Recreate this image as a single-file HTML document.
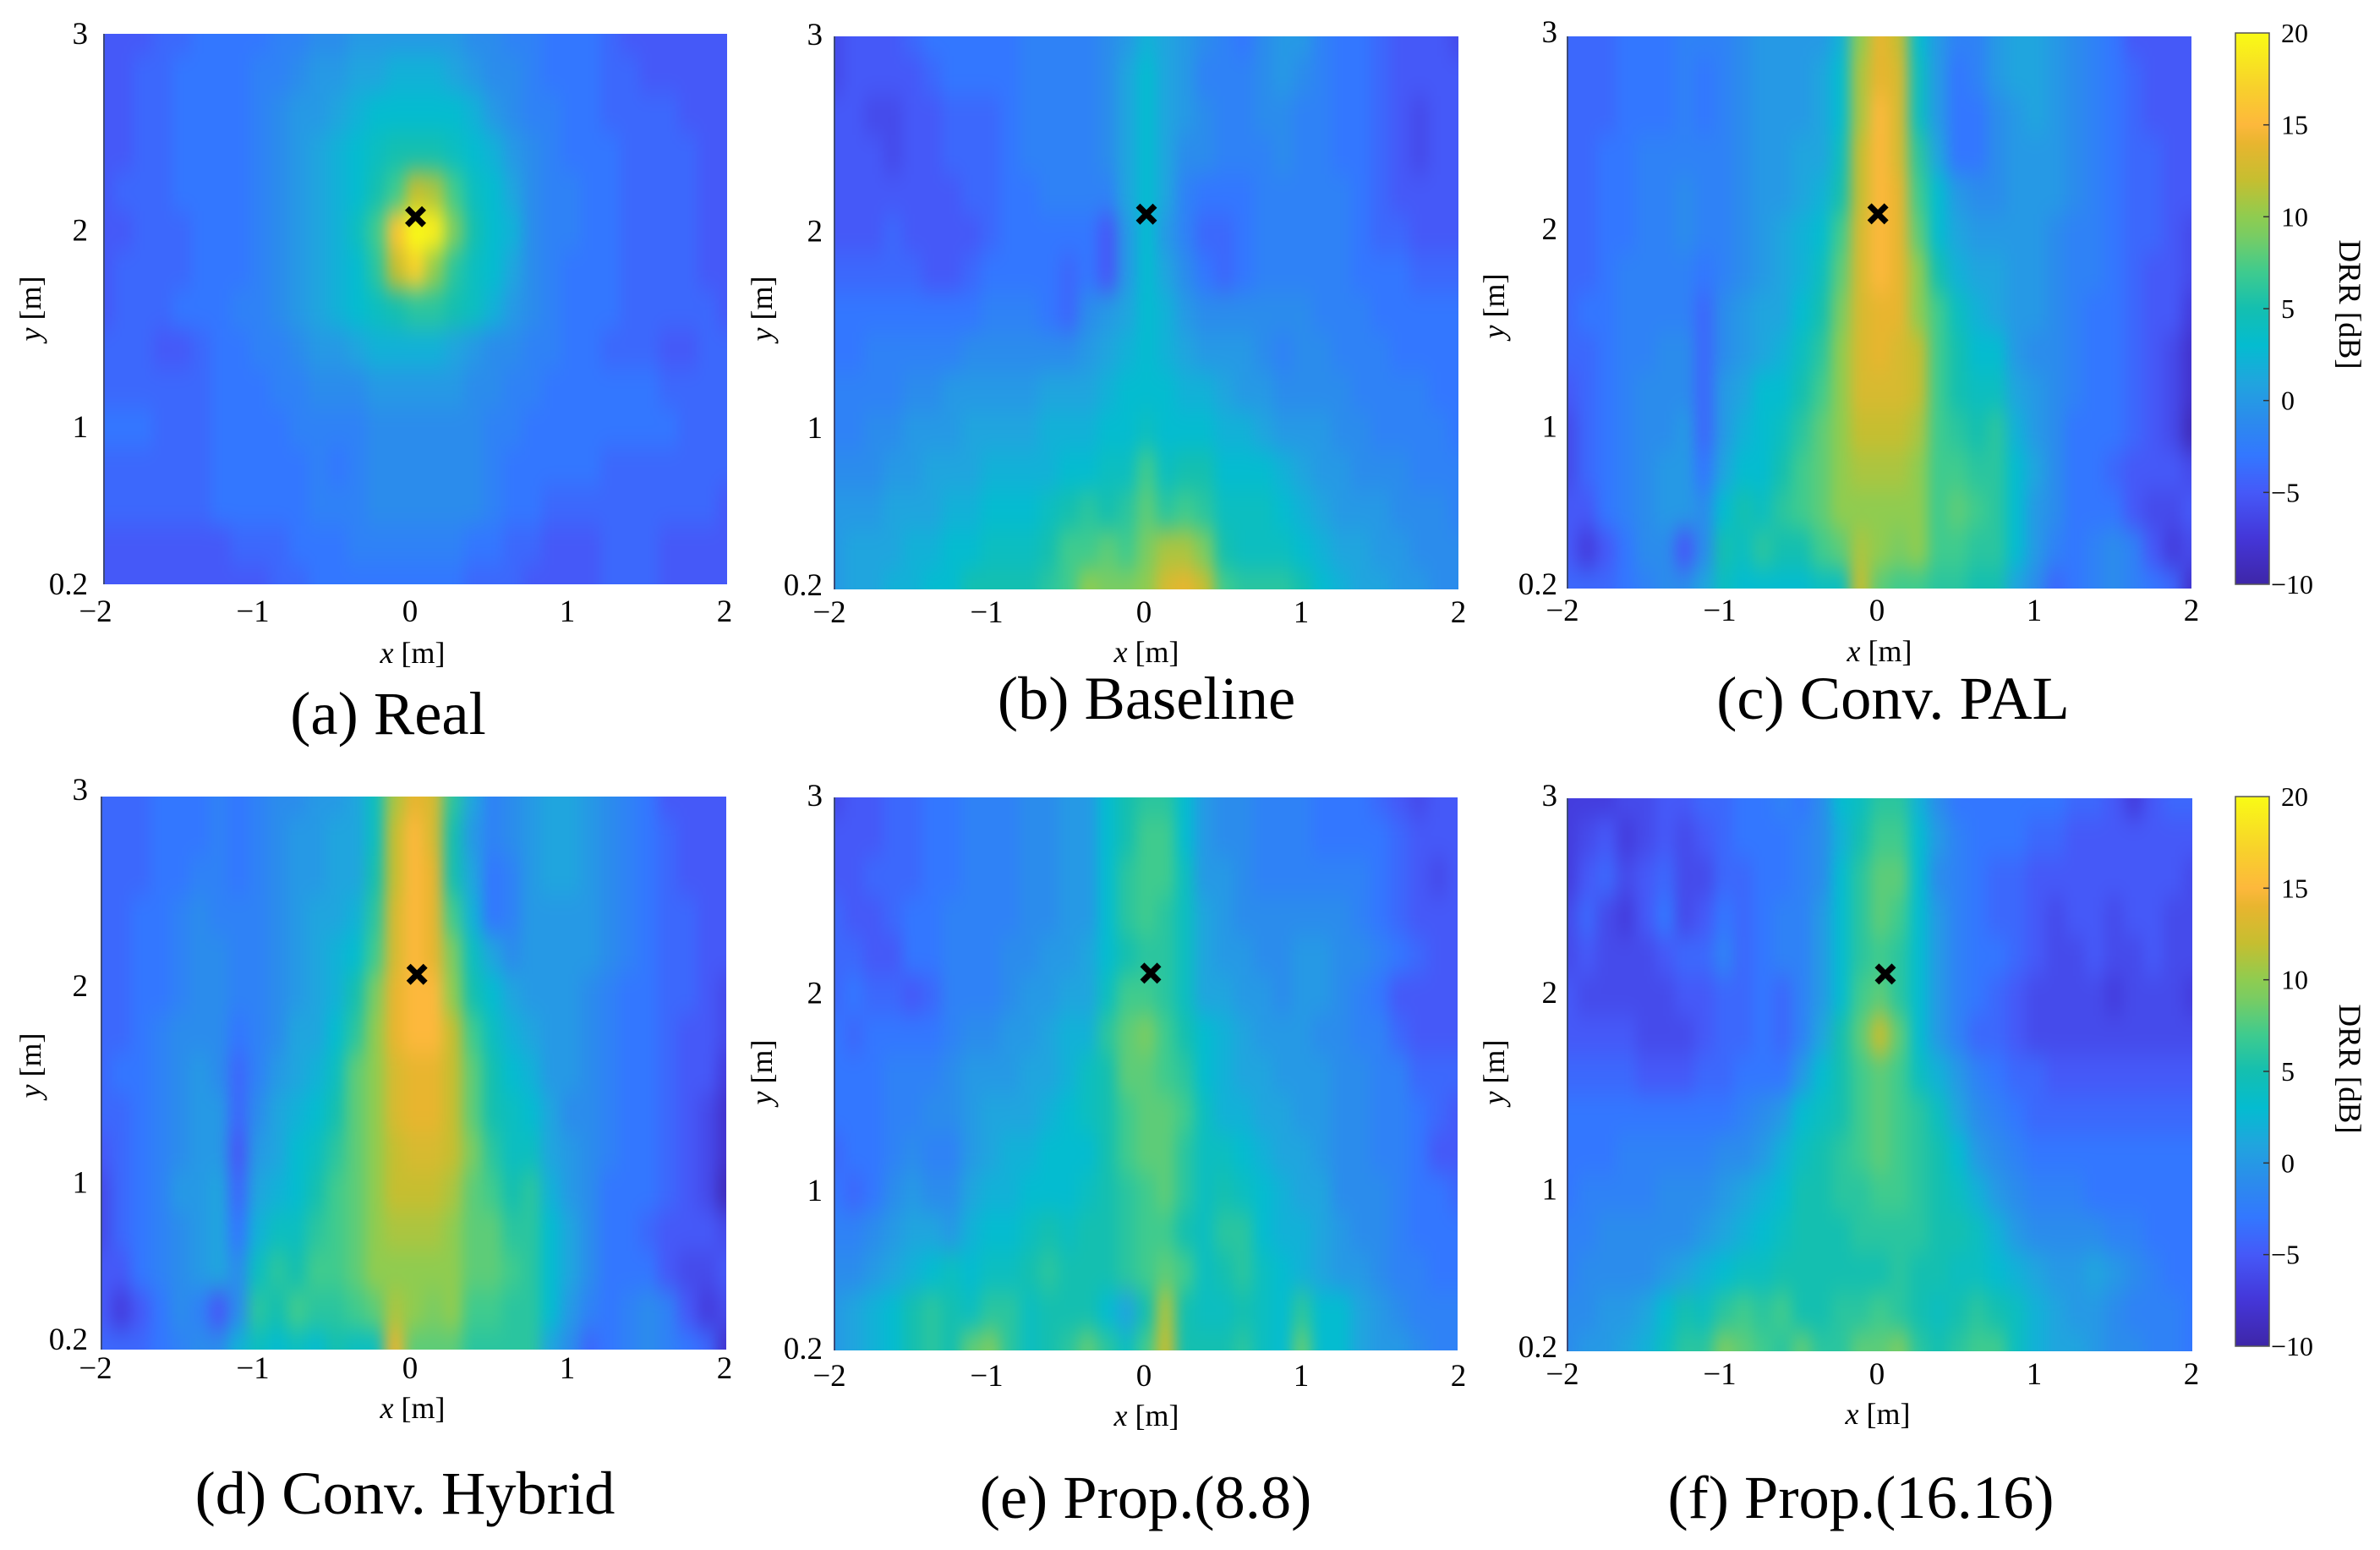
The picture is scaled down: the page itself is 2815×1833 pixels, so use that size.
<!DOCTYPE html>
<html lang="en">
<head>
<meta charset="utf-8">
<title>DRR maps</title>
<style>
html,body{margin:0;padding:0;background:#fff}
svg{display:block}
text{font-family:"Liberation Serif","Times New Roman",serif;fill:#000}
</style>
</head>
<body>
<svg id="figure" xmlns="http://www.w3.org/2000/svg" width="2815" height="1833" viewBox="0 0 2815 1833"></svg>
<script>
// Axis data
const gridX = [-2,-1.875,-1.75,-1.625,-1.5,-1.375,-1.25,-1.125,-1,-0.875,-0.75,-0.625,-0.5,-0.375,-0.25,-0.125,0,0.125,0.25,0.375,0.5,0.625,0.75,0.875,1,1.125,1.25,1.375,1.5,1.625,1.75,1.875,2];
const gridY = [3,2.8,2.6,2.4,2.2,2,1.8,1.6,1.4,1.2,1,0.8,0.6,0.4,0.2];
const xTickLabels = [-2,-1,0,1,2];
const yTickLabels = [3,2,1,0.2];
const colorTickLabels = [20,15,10,5,0,-5,-10];
const colorDomain = [-10,20];
const colormapValues = [-10,-7.5,-5,-3,-1,1,3,5,7,9,10,12,14,15,17,20];
const colormapColors = ["#3e26a8","#4436d8","#4559f8","#3377ff","#2b8cec","#20a5de","#04bcd0","#14bfb0","#3fcb8e","#7acc62","#8fcc50","#c6be30","#e8b52f","#fdb83c","#f8d02c","#f9fb15"];

// Source positions [x, y] in metres
const realSource = [0.0,2.07];
const baselineSource = [0.0,2.1];
const convPalSource = [-0.01,2.1];
const convHybridSource = [0.02,2.1];
const prop88Source = [0.03,2.11];
const prop1616Source = [0.035,2.11];

// DRR values in dB: one row per gridY, one column per gridX
const realValues = [
[-5,-5,-5,-4,-4,-3,-3,-3,-3,-2,-2,-1,-1,0,0,0,0,0,0,-1,-1,-2,-2,-3,-3,-3,-4,-5,-5,-5,-5,-5,-5],
[-5,-5,-4,-4,-3,-3,-3,-3,-2,-2,-1,0,0,1,1,2,2,2,1,0,-1,-1,-2,-3,-3,-3,-4,-4,-5,-5,-5,-5,-5],
[-5,-5,-4,-4,-3,-3,-3,-3,-2,-1,0,0,1,2,3,3,3,3,3,2,0,-1,-2,-2,-3,-3,-4,-4,-4,-4,-5,-5,-5],
[-5,-5,-4,-4,-3,-3,-3,-3,-2,-1,0,1,2,3,4,5,5,5,4,3,2,0,-1,-2,-3,-3,-3,-4,-4,-4,-4,-5,-5],
[-5,-4,-4,-4,-3,-3,-3,-3,-2,-1,0,1,2,3,5,7,12,11,7,4,3,1,-1,-2,-2,-3,-3,-4,-4,-4,-4,-5,-5],
[-5,-5,-4,-4,-4,-3,-3,-3,-2,-1,0,1,2,4,7,16,23,19,9,5,3,2,-1,-2,-2,-3,-3,-4,-4,-4,-4,-5,-5],
[-5,-4,-4,-4,-4,-3,-3,-3,-2,-1,0,1,2,3,6,12,17,10,6,4,3,1,-1,-2,-3,-3,-3,-4,-4,-4,-4,-5,-5],
[-5,-4,-4,-4,-3,-3,-3,-2,-2,-1,0,1,2,3,4,5,6,6,5,4,2,0,-1,-2,-3,-3,-3,-4,-4,-4,-4,-4,-5],
[-4,-4,-4,-5,-5,-4,-3,-3,-2,-2,-1,0,0,1,2,2,2,2,1,0,-1,-1,-2,-2,-3,-3,-4,-4,-4,-5,-5,-4,-4],
[-4,-4,-4,-4,-4,-4,-3,-3,-3,-2,-2,-1,-1,-1,0,0,0,0,0,-1,-1,-2,-2,-3,-3,-3,-3,-3,-3,-4,-4,-4,-4],
[-3,-3,-3,-4,-4,-4,-3,-3,-3,-3,-2,-2,-2,-2,-1,-1,-1,-1,-1,-1,-2,-2,-3,-3,-3,-3,-3,-3,-3,-3,-4,-4,-4],
[-4,-4,-4,-4,-4,-4,-3,-3,-3,-3,-3,-2,-3,-2,-1,-1,-1,-1,-1,-1,-2,-3,-3,-3,-3,-3,-4,-4,-4,-4,-4,-4,-4],
[-4,-4,-4,-4,-4,-4,-3,-3,-3,-3,-3,-2,-2,-2,-1,-1,-1,-1,-1,-1,-2,-3,-3,-4,-4,-4,-4,-4,-4,-4,-4,-4,-5],
[-5,-5,-5,-5,-5,-5,-5,-4,-4,-4,-3,-3,-3,-2,-2,-2,-2,-2,-2,-3,-3,-4,-4,-5,-5,-5,-4,-4,-4,-5,-5,-5,-5],
[-5,-5,-5,-5,-5,-5,-5,-5,-5,-4,-4,-3,-3,-3,-3,-3,-3,-3,-3,-4,-4,-4,-5,-5,-5,-5,-4,-4,-4,-5,-5,-5,-5]
];
const baselineValues = [
[-6,-5,-5,-5,-4,-3,-3,-3,-3,-3,-2,-2,-2,-2,-1,0,2,1,0,-1,-2,-3,-1,0,0,-2,-3,-3,-4,-5,-5,-5,-6],
[-6,-5,-5,-5,-5,-4,-3,-3,-3,-3,-2,-2,-2,-2,-1,1,3,1,0,-2,-2,-2,-1,0,-1,-2,-3,-3,-4,-5,-5,-5,-5],
[-5,-5,-6,-6,-5,-5,-4,-4,-4,-3,-2,-2,-2,-2,-1,1,3,1,0,-1,-2,-2,-1,-1,-2,-2,-3,-3,-4,-5,-6,-5,-5],
[-5,-5,-5,-6,-5,-5,-4,-4,-4,-3,-2,-2,-2,-2,-1,1,3,1,-1,-1,-2,-2,-2,-1,-2,-2,-3,-3,-4,-5,-6,-5,-5],
[-5,-5,-5,-5,-5,-5,-5,-4,-4,-3,-3,-2,-2,-2,-2,1,3,1,-2,-3,-3,-3,-2,-2,-2,-2,-2,-3,-4,-5,-5,-5,-5],
[-5,-5,-5,-4,-5,-5,-5,-5,-4,-3,-3,-3,-3,-3,-5,0,3,0,-2,-4,-4,-3,-2,-2,-2,-2,-2,-3,-4,-4,-5,-5,-5],
[-4,-4,-4,-4,-4,-5,-5,-4,-3,-3,-3,-3,-4,-3,-5,0,3,1,-1,-3,-4,-3,-2,-2,-2,-2,-2,-3,-3,-3,-4,-4,-4],
[-3,-3,-3,-3,-3,-3,-3,-3,-2,-2,-2,-3,-4,-1,0,1,3,2,0,-1,-1,-1,-1,-1,-1,-2,-2,-2,-3,-3,-3,-3,-3],
[-3,-3,-2,-2,-2,-2,-2,-1,-1,-1,-1,-1,-1,0,1,2,3,2,1,0,0,0,-1,-2,-1,-1,-2,-2,-2,-3,-3,-3,-3],
[-2,-2,-2,-2,-1,-1,0,0,0,0,0,1,1,1,2,3,3,3,2,2,1,0,0,-1,-1,-1,-1,-2,-2,-2,-2,-3,-3],
[-2,-2,-1,-1,0,0,0,1,1,1,1,2,2,2,3,3,4,3,3,3,2,2,1,0,0,0,-1,-1,-2,-2,-2,-2,-3],
[-1,-1,-1,0,0,1,1,1,2,2,2,2,3,3,4,4,7,4,5,5,3,3,3,2,1,0,0,-1,-1,-1,-2,-2,-2],
[0,0,0,1,1,1,2,2,3,3,3,4,5,6,5,6,8,6,7,6,4,4,4,3,2,1,0,0,0,-1,-1,-1,-2],
[0,1,1,1,2,2,3,3,4,4,4,5,7,7,8,7,9,11,11,9,5,4,4,4,3,2,1,1,0,0,-1,-1,-1],
[0,1,1,2,2,3,3,5,5,5,5,6,7,10,9,9,10,13,14,12,7,6,6,6,5,3,2,1,1,0,0,-1,-1]
];
const convPalValues = [
[-4,-4,-4,-3,-3,-3,-2,-2,-2,-1,0,0,0,0,2,10,14,12,3,0,-2,-2,0,1,1,0,-1,-2,-3,-5,-5,-5,-5],
[-4,-4,-4,-3,-3,-3,-2,-3,-2,-1,0,0,0,1,3,11,14,13,4,0,-3,-2,0,1,1,0,-1,-2,-3,-4,-5,-5,-5],
[-4,-4,-4,-3,-3,-3,-2,-3,-2,-1,0,0,0,1,3,11,15,13,4,0,-3,-3,-1,0,1,0,-1,-2,-3,-4,-5,-5,-5],
[-4,-4,-3,-3,-2,-2,-2,-2,-2,-1,0,0,1,1,4,12,15,13,6,1,-3,-3,-1,0,0,0,-1,-2,-3,-4,-4,-5,-5],
[-4,-4,-3,-3,-2,-2,-1,-2,-2,-1,0,0,1,2,5,12,15,14,7,3,0,-1,-1,0,0,0,-1,-2,-3,-4,-4,-5,-5],
[-4,-4,-3,-3,-2,-2,-1,-2,-2,-1,0,1,2,3,7,13,15,14,8,3,1,0,0,0,0,-1,-2,-2,-3,-4,-4,-5,-6],
[-4,-4,-3,-2,-2,-2,-2,-3,-2,-1,0,1,2,4,8,13,15,14,10,5,2,1,1,0,0,-1,-2,-2,-3,-4,-5,-5,-6],
[-4,-3,-3,-2,-2,-2,-2,-4,-1,0,1,1,3,5,9,13,14,14,10,7,4,2,1,0,0,-1,-2,-3,-3,-4,-5,-5,-7],
[-4,-4,-3,-2,-2,-1,-1,-4,-1,0,1,2,4,6,10,13,14,13,12,7,5,3,3,0,-1,-1,-2,-3,-3,-4,-5,-6,-8],
[-5,-4,-3,-2,-1,-1,-1,-4,0,1,3,3,5,7,10,13,13,13,12,7,5,4,4,1,0,-1,-2,-3,-3,-4,-5,-6,-8],
[-6,-4,-3,-2,-1,-1,0,-4,0,2,3,4,6,8,10,12,12,12,11,7,6,5,6,2,0,-1,-3,-3,-3,-4,-5,-6,-9],
[-6,-4,-3,-2,-1,0,0,-3,1,3,3,5,7,8,10,11,11,11,10,7,7,6,6,3,1,-1,-3,-3,-4,-5,-5,-5,-6],
[-5,-5,-3,-2,-1,0,0,-1,3,5,4,6,7,8,10,10,10,10,10,7,8,7,6,3,0,-1,-3,-3,-3,-5,-6,-6,-5],
[-5,-7,-5,-3,-1,-1,-5,-1,5,4,6,5,5,7,8,11,10,9,10,7,7,6,6,3,0,-2,-3,-2,-1,-2,-5,-7,-6],
[-4,-4,-4,-3,-2,-1,-1,1,4,3,3,3,3,4,4,12,8,7,7,6,6,5,5,1,-1,-4,-3,-2,-1,-2,-3,-4,-8]
];
const convHybridValues = [
[-4,-4,-4,-3,-3,-3,-2,-3,-2,-1,-1,0,0,1,4,11,14,13,6,1,-2,-1,0,1,1,0,-1,-2,-3,-5,-5,-5,-5],
[-4,-4,-4,-3,-3,-3,-2,-3,-2,-1,0,0,1,1,4,12,15,13,5,0,-2,-1,0,1,1,0,-1,-2,-3,-4,-5,-5,-5],
[-4,-4,-4,-3,-3,-2,-2,-3,-2,-1,0,0,1,1,5,12,15,14,5,1,-3,-2,0,1,1,0,-1,-2,-3,-4,-5,-5,-5],
[-4,-4,-3,-3,-2,-1,-2,-2,-2,-1,0,1,1,2,6,13,15,14,7,2,-3,-2,0,0,0,0,-1,-2,-3,-4,-4,-5,-5],
[-4,-4,-3,-3,-2,-1,-1,-2,-2,-1,0,1,2,3,7,13,15,14,9,4,1,-1,0,0,0,0,-1,-2,-3,-4,-4,-5,-5],
[-4,-4,-3,-3,-2,-1,-1,-2,-2,-1,0,1,2,5,9,14,15,15,10,5,3,1,0,0,0,-1,-2,-3,-3,-4,-4,-5,-6],
[-4,-4,-3,-2,-1,-1,-1,-3,-2,-1,1,1,3,6,10,14,15,15,12,7,4,2,1,0,0,-1,-2,-3,-3,-4,-5,-5,-6],
[-4,-3,-3,-2,-1,0,-1,-4,-2,0,1,2,4,8,10,13,14,14,12,8,5,3,2,0,0,-1,-2,-3,-3,-4,-5,-5,-7],
[-4,-4,-3,-2,-1,0,0,-4,-1,1,2,3,5,8,10,13,14,14,12,8,5,4,3,1,-1,-1,-2,-3,-3,-4,-5,-6,-8],
[-5,-4,-3,-2,-1,0,0,-5,0,1,3,4,6,8,10,12,13,13,12,9,6,4,4,1,0,-1,-2,-3,-3,-4,-5,-6,-8],
[-6,-4,-3,-2,0,0,1,-4,1,2,3,5,7,8,10,12,12,12,11,8,7,5,6,2,0,-1,-3,-3,-3,-4,-5,-6,-9],
[-6,-4,-3,-2,-1,0,1,-3,2,4,4,6,7,8,10,11,11,11,10,8,8,6,6,3,1,-1,-3,-3,-4,-5,-5,-5,-6],
[-5,-5,-3,-2,-1,0,1,-1,4,6,5,7,7,8,10,10,10,10,10,8,8,7,6,3,1,-1,-3,-3,-3,-5,-6,-6,-5],
[-5,-7,-5,-3,-1,-2,-5,-1,6,5,7,6,6,7,8,11,10,9,10,7,7,6,6,3,0,-2,-3,-2,-1,-2,-5,-7,-6],
[-4,-4,-4,-3,-2,-1,-1,2,4,3,4,3,5,4,4,14,8,8,8,6,6,6,6,1,-1,-4,-3,-2,-1,-2,-3,-4,-8]
];
const prop88Values = [
[-6,-5,-5,-4,-4,-3,-3,-2,-2,-2,-1,-1,0,0,3,5,6,6,3,0,-1,-1,-2,-2,-2,-3,-3,-3,-4,-5,-6,-5,-5],
[-5,-5,-5,-4,-4,-3,-3,-2,-2,-2,-1,-1,0,0,3,5,7,7,3,0,-1,-1,-2,-2,-2,-3,-3,-3,-3,-4,-5,-5,-5],
[-5,-5,-4,-4,-4,-3,-3,-2,-2,-2,-1,-1,0,0,3,6,7,7,4,0,0,-1,-2,-2,-2,-2,-2,-2,-3,-4,-5,-6,-5],
[-4,-5,-5,-4,-3,-3,-2,-2,-2,-2,-1,-1,0,0,3,6,7,6,4,1,0,-1,-1,-1,-1,-1,-1,-2,-3,-4,-5,-5,-5],
[-4,-4,-5,-5,-3,-3,-2,-2,-2,-1,-1,0,0,1,3,5,6,6,4,1,0,0,-1,-1,0,0,-1,-1,-2,-3,-4,-5,-5],
[-4,-3,-4,-4,-5,-4,-2,-2,-2,-1,0,0,1,1,4,7,7,6,4,1,1,0,0,-1,0,0,-1,-2,-3,-5,-5,-5,-5],
[-3,-4,-3,-3,-3,-3,-2,-1,-1,0,0,1,2,2,6,8,9,7,5,3,2,1,0,0,0,-1,-1,-2,-2,-4,-5,-5,-5],
[-3,-3,-3,-2,-2,-2,-1,0,0,0,1,1,2,4,5,8,8,7,6,3,2,1,1,0,0,0,-1,-1,-2,-2,-4,-4,-4],
[-3,-3,-3,-2,-2,-1,-1,0,1,1,1,2,3,4,5,7,8,8,7,4,2,2,1,1,0,0,-1,-1,-2,-2,-3,-4,-5],
[-4,-3,-3,-2,-1,-2,-2,0,1,2,2,3,3,3,5,7,8,8,6,4,4,3,2,1,1,0,-1,-1,-2,-2,-3,-5,-5],
[-3,-4,-3,-1,0,-1,-1,1,2,2,3,3,3,4,5,6,7,8,6,4,5,4,3,2,1,1,-1,-1,-1,-2,-3,-3,-4],
[-2,-2,-1,0,1,1,0,2,3,3,4,5,4,5,5,6,7,7,5,4,6,6,3,2,2,1,0,-1,-1,-2,-3,-3,-3],
[-1,-1,0,1,2,3,4,3,4,4,5,6,5,5,5,6,7,8,7,4,5,6,4,3,2,1,0,0,-1,-2,-2,-3,-3],
[0,1,2,3,5,6,5,4,6,6,4,5,5,5,3,1,5,11,5,4,4,5,4,3,6,3,3,1,0,-1,-2,-2,-2],
[0,1,2,3,5,6,5,8,9,6,4,5,6,8,6,4,7,12,5,5,5,6,4,3,8,3,3,1,0,0,-1,-2,-2]
];
const prop1616Values = [
[-7,-7,-7,-6,-6,-5,-5,-4,-4,-3,-3,-2,-3,-1,3,4,6,6,2,-1,-3,-3,-3,-3,-3,-3,-4,-4,-5,-7,-5,-4,-4],
[-7,-6,-5,-7,-6,-5,-6,-5,-4,-3,-3,-3,-2,-1,2,5,7,7,3,0,-2,-3,-3,-3,-4,-4,-5,-5,-5,-5,-5,-5,-5],
[-7,-5,-4,-6,-5,-4,-6,-6,-4,-4,-3,-3,-2,-1,3,6,8,8,3,-1,-2,-3,-4,-4,-5,-5,-5,-5,-5,-5,-5,-5,-6],
[-6,-4,-6,-7,-5,-3,-6,-5,-3,-4,-3,-2,-2,0,3,6,8,7,3,0,-2,-3,-4,-4,-5,-6,-5,-5,-6,-5,-5,-6,-6],
[-6,-5,-6,-6,-6,-5,-4,-4,-2,-4,-3,-2,-2,0,3,6,7,6,3,0,-2,-3,-3,-4,-5,-6,-6,-5,-6,-6,-5,-6,-6],
[-5,-6,-6,-6,-6,-6,-5,-5,-4,-4,-3,-4,-2,0,3,7,8,6,3,0,-2,-3,-4,-5,-6,-6,-6,-6,-7,-6,-6,-6,-7],
[-5,-5,-5,-5,-6,-6,-6,-5,-4,-4,-3,-4,-2,1,5,8,12,8,3,0,-2,-4,-4,-5,-6,-6,-6,-6,-6,-6,-6,-6,-6],
[-4,-4,-4,-4,-5,-5,-5,-4,-4,-3,-3,-3,0,3,5,7,8,7,4,2,0,-2,-3,-4,-4,-5,-5,-5,-5,-5,-5,-5,-5],
[-3,-3,-3,-3,-3,-3,-3,-3,-3,-2,-1,0,3,4,5,7,8,7,6,4,1,-1,-2,-3,-4,-4,-4,-4,-4,-4,-4,-4,-4],
[-3,-3,-3,-2,-2,-2,-2,-2,-1,-1,0,2,4,5,6,7,8,7,6,5,3,0,-1,-2,-3,-3,-3,-3,-3,-3,-3,-3,-3],
[-3,-2,-2,-2,-2,-1,-1,-1,0,1,2,3,5,5,6,6,7,7,6,5,4,2,0,-1,-2,-2,-2,-3,-3,-3,-3,-3,-3],
[-2,-2,-1,-1,-1,-1,-1,0,1,2,3,4,5,5,5,6,6,6,6,5,5,4,2,0,-1,-1,-1,-1,-2,-2,-3,-3,-3],
[-2,-1,-1,-1,-1,0,1,2,3,4,4,5,5,5,5,5,5,6,5,5,4,4,3,2,1,0,0,1,0,-1,-2,-3,-3],
[-1,-1,0,0,1,3,5,4,6,7,6,7,5,5,6,6,7,6,5,4,5,6,5,4,2,1,0,0,-1,-2,-2,-2,-3],
[-1,0,0,1,2,4,6,6,9,8,7,6,8,6,6,8,8,9,6,5,6,7,7,4,2,1,1,0,-1,-1,-2,-2,-3]
];

const SVG_NS = "http://www.w3.org/2000/svg";
const svg = document.getElementById("figure");

function make(tag, attrs, parent) {
  const el = document.createElementNS(SVG_NS, tag);
  for (const k in attrs) el.setAttribute(k, attrs[k]);
  parent.appendChild(el);
  return el;
}
function hexToRgb(h) {
  return [parseInt(h.slice(1,3),16), parseInt(h.slice(3,5),16), parseInt(h.slice(5,7),16)];
}
function colorFor(v) {
  const vals = colormapValues;
  if (v <= vals[0]) return colormapColors[0];
  if (v >= vals[vals.length-1]) return colormapColors[vals.length-1];
  for (let i = 1; i < vals.length; i++) {
    if (v <= vals[i]) {
      const t = (v - vals[i-1]) / (vals[i] - vals[i-1]);
      const a = hexToRgb(colormapColors[i-1]);
      const b = hexToRgb(colormapColors[i]);
      return "rgb(" + [0,1,2].map(function(c){ return Math.round(a[c] + (b[c]-a[c])*t); }).join(",") + ")";
    }
  }
}
function labelText(v) {
  return v < 0 ? "\u2212" + Math.abs(v) : String(v);
}

const defs = make("defs", {}, svg);
const blur = make("filter", {id:"smooth", filterUnits:"userSpaceOnUse", x:0, y:0, width:2815, height:1833, "color-interpolation-filters":"sRGB"}, defs);
make("feGaussianBlur", {stdDeviation:"8 14"}, blur);

function drawPanel(p) {
  const group = make("g", {}, svg);
  
  

  const xScale = function(v){ return p.left + (v - gridX[0]) / (gridX[gridX.length-1] - gridX[0]) * (p.right - p.left); };
  const yScale = function(v){ return p.top + (gridY[0] - v) / (gridY[0] - gridY[gridY.length-1]) * (p.bottom - p.top); };
  const yLabelScale = function(v){ return p.yLabelTop + (gridY[0] - v) / (gridY[0] - gridY[gridY.length-1]) * (p.yLabelBottom - p.yLabelTop); };

  const clip = make("clipPath", {id:"clip-" + p.name}, defs);
  make("rect", {x:p.left, y:p.top, width:p.right-p.left, height:p.bottom-p.top}, clip);

  const clipGroup = make("g", {"clip-path":"url(#clip-" + p.name + ")"}, group);
  
  
  const cells = make("g", {filter:"url(#smooth)", "shape-rendering":"crispEdges"}, clipGroup);
  
  

  const dx = gridX[1] - gridX[0];
  const dy = gridY[0] - gridY[1];
  p.values.forEach(function(row, r){
    row.forEach(function(v, c){
      let x0 = xScale(gridX[c] - dx/2);
      let x1 = xScale(gridX[c] + dx/2);
      let y0 = yScale(gridY[r] + dy/2);
      let y1 = yScale(gridY[r] - dy/2);
      if (c === 0) x0 -= 60;
      if (c === row.length-1) x1 += 60;
      if (r === 0) y0 -= 80;
      if (r === p.values.length-1) y1 += 80;
      const cell = make("rect", {x:x0, y:y0, width:x1-x0+0.6, height:y1-y0+0.6, fill:colorFor(v)}, cells);
      
      
    });
  });

  const edge = make("line", {x1:p.left, x2:p.left, y1:p.top, y2:p.bottom, stroke:"#3d4a78", "stroke-width":2}, group);
  
  

  xTickLabels.forEach(function(v){
    const t = make("text", {x:p.xLabelCenter + v*p.xLabelStep, y:p.xLabelY, "font-size":37, "text-anchor":"middle"}, group);
    t.textContent = labelText(v);
    
    
  });
  yTickLabels.forEach(function(v){
    const t = make("text", {x:p.yLabelRight, y:yLabelScale(v) + 12, "font-size":37, "text-anchor":"end"}, group);
    t.textContent = labelText(v);
    
    
  });

  const xTitle = make("text", {x:p.xTitle[0], y:p.xTitle[1], "font-size":36, "text-anchor":"middle"}, group);
  
  
  const xi = make("tspan", {"font-style":"italic"}, xTitle);
  xi.textContent = "x";
  const xr = make("tspan", {}, xTitle);
  xr.textContent = " [m]";

  const yTitle = make("text", {transform:"translate(" + p.yTitle[0] + "," + p.yTitle[1] + ") rotate(-90)", "font-size":36, "text-anchor":"middle"}, group);
  
  
  const yi = make("tspan", {"font-style":"italic"}, yTitle);
  yi.textContent = "y";
  const yr = make("tspan", {}, yTitle);
  yr.textContent = " [m]";

  const caption = make("text", {x:p.caption[0], y:p.caption[1], "font-size":72.5, "text-anchor":"middle"}, group);
  caption.textContent = p.title;
  
  

  const sx = xScale(p.source[0]);
  const sy = yScale(p.source[1]);
  const marker = make("path", {d:"M" + (sx-10) + " " + (sy-10) + "L" + (sx+10) + " " + (sy+10) + "M" + (sx-10) + " " + (sy+10) + "L" + (sx+10) + " " + (sy-10), stroke:"#000", "stroke-width":7, fill:"none"}, group);
  
  
}

function drawColorbar(b) {
  const group = make("g", {}, svg);
  
  
  const cScale = function(v){ return b.bottom - (v - colorDomain[0]) / (colorDomain[1] - colorDomain[0]) * (b.bottom - b.top); };
  const grad = make("linearGradient", {id:"grad-" + b.name, x1:0, y1:1, x2:0, y2:0}, defs);
  colormapValues.forEach(function(v, i){
    make("stop", {offset:(v - colorDomain[0]) / (colorDomain[1] - colorDomain[0]), "stop-color":colormapColors[i]}, grad);
  });
  const bar = make("rect", {x:b.left, y:b.top, width:b.right-b.left, height:b.bottom-b.top, fill:"url(#grad-" + b.name + ")", stroke:"#555", "stroke-width":1.5}, group);
  
  
  colorTickLabels.forEach(function(v){
    const y = cScale(v);
    if (v !== colorDomain[0] && v !== colorDomain[1]) {
      const tick = make("line", {x1:b.right-7, x2:b.right, y1:y, y2:y, stroke:"#333", "stroke-width":1.5}, group);
      
      
    }
    const t = make("text", {x:v < 0 ? b.right + 2 : b.right + 14, y:y + 11, "font-size":32}, group);
    t.textContent = labelText(v);
    
    
  });
  const title = make("text", {transform:"translate(" + b.titleX + "," + b.titleY + ") rotate(90)", "font-size":37, "text-anchor":"middle"}, group);
  title.textContent = "DRR [dB]";
  
  
}

drawPanel({name:"panel-real", title:"(a) Real", values:realValues, source:realSource, left:123, right:860, top:40, bottom:691,
  xLabelCenter:485, xLabelStep:186, xLabelY:735, yLabelRight:104, yLabelTop:40, yLabelBottom:691, xTitle:[488,784], yTitle:[48,365], caption:[459,868]});
drawPanel({name:"panel-baseline", title:"(b) Baseline", values:baselineValues, source:baselineSource, left:987, right:1725, top:43, bottom:697,
  xLabelCenter:1353, xLabelStep:186, xLabelY:736, yLabelRight:973, yLabelTop:41, yLabelBottom:692, xTitle:[1356,783], yTitle:[913,365], caption:[1356,850]});
drawPanel({name:"panel-conv-pal", title:"(c) Conv. PAL", values:convPalValues, source:convPalSource, left:1854, right:2592, top:43, bottom:696,
  xLabelCenter:2220, xLabelStep:186, xLabelY:734, yLabelRight:1842, yLabelTop:38, yLabelBottom:691, xTitle:[2223,782], yTitle:[1779,362], caption:[2239,850]});
drawPanel({name:"panel-conv-hybrid", title:"(d) Conv. Hybrid", values:convHybridValues, source:convHybridSource, left:120, right:859, top:942, bottom:1596,
  xLabelCenter:485, xLabelStep:186, xLabelY:1630, yLabelRight:104, yLabelTop:934, yLabelBottom:1584, xTitle:[488,1677], yTitle:[48,1260], caption:[479,1790]});
drawPanel({name:"panel-prop-8-8", title:"(e) Prop.(8.8)", values:prop88Values, source:prop88Source, left:987, right:1724, top:943, bottom:1597,
  xLabelCenter:1353, xLabelStep:186, xLabelY:1639, yLabelRight:973, yLabelTop:941, yLabelBottom:1595, xTitle:[1356,1686], yTitle:[913,1268], caption:[1355,1795]});
drawPanel({name:"panel-prop-16-16", title:"(f) Prop.(16.16)", values:prop1616Values, source:prop1616Source, left:1854, right:2593, top:944, bottom:1598,
  xLabelCenter:2220, xLabelStep:186, xLabelY:1637, yLabelRight:1842, yLabelTop:941, yLabelBottom:1593, xTitle:[2221,1684], yTitle:[1779,1268], caption:[2201,1795]});
drawColorbar({name:"colorbar-top", left:2644, right:2684, top:39, bottom:691, titleX:2767, titleY:360});
drawColorbar({name:"colorbar-bottom", left:2644, right:2684, top:942, bottom:1592, titleX:2767, titleY:1264});
</script>
</body>
</html>
